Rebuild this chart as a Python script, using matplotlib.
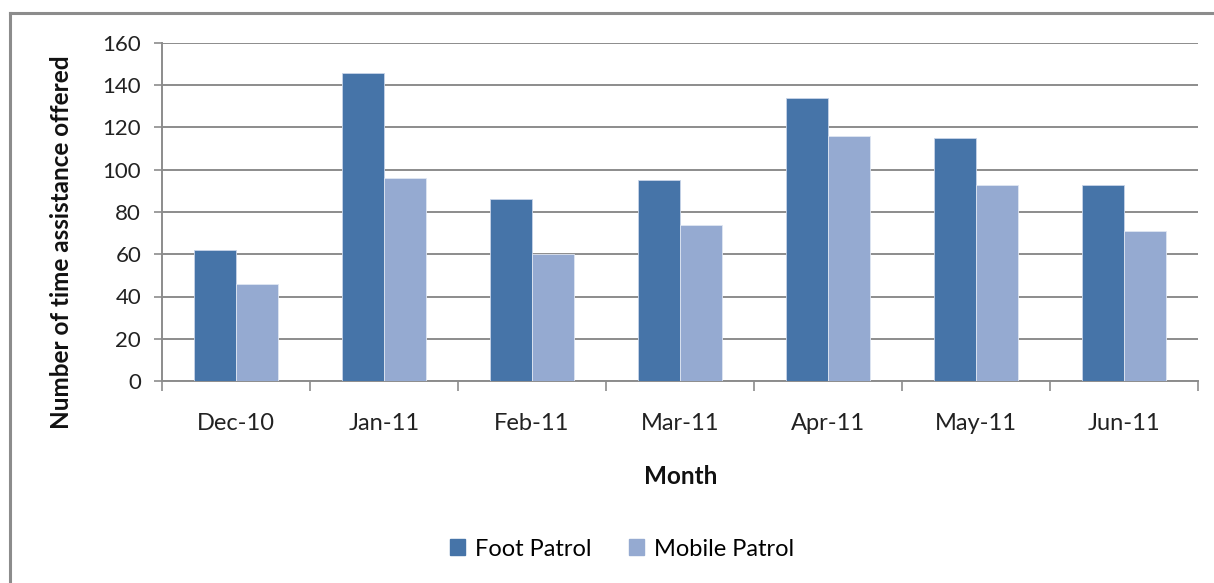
import matplotlib
matplotlib.use("Agg")
import matplotlib.pyplot as plt
import numpy as np
from matplotlib.lines import Line2D

months = ["Dec-10", "Jan-11", "Feb-11", "Mar-11", "Apr-11", "May-11", "Jun-11"]
foot_patrol = [62, 146, 86, 95, 134, 115, 93]
mobile_patrol = [46, 96, 60, 74, 116, 93, 71]
y_ticks = [0, 20, 40, 60, 80, 100, 120, 140, 160]

plt.rcParams['font.family'] = ['Lato', 'DejaVu Sans']

W, H = 1214, 583
fig = plt.figure(figsize=(W / 100, H / 100), dpi=100)
ax = fig.add_axes([162 / W, 1 - 381 / H, (1198 - 162) / W, (381 - 43) / H])

x = np.arange(len(months))
bw = 0.284
c_foot = "#4674A8"
c_mob = "#95AAD1"
ax.bar(x - bw / 2, foot_patrol, bw, color=c_foot, edgecolor="#c8d4e8", linewidth=0.6,
       label="Foot Patrol", zorder=3)
ax.bar(x + bw / 2, mobile_patrol, bw, color=c_mob, edgecolor="#dfe6f2", linewidth=0.6,
       label="Mobile Patrol", zorder=3)

ax.set_xlim(-0.5, len(months) - 0.5)
ax.set_ylim(0, 160)
ax.set_yticks(y_ticks)
ax.set_yticklabels([str(v) for v in y_ticks], fontsize=16, color="#222222")
ax.yaxis.grid(True, color="#8c8c8c", linewidth=1.4, zorder=0)
ax.set_axisbelow(True)

ax.set_xticks(np.arange(-0.5, len(months) + 0.5, 1.0))
ax.set_xticklabels([])
ax.set_xticks(x, minor=True)
ax.set_xticklabels(months, minor=True, fontsize=17, color="#222222")
ax.tick_params(axis="x", which="minor", length=0, pad=23)
ax.tick_params(axis="x", which="major", length=7, width=1.2, color="#8c8c8c", direction="out")
ax.tick_params(axis="y", length=6, width=1.2, color="#8c8c8c", direction="out", pad=9)

for s in ["top", "right"]:
    ax.spines[s].set_visible(False)
for s in ["left", "bottom"]:
    ax.spines[s].set_color("#8c8c8c")
    ax.spines[s].set_linewidth(1.4)

fig.text(62 / W, 1 - 242 / H, "Number of time assistance offered", rotation=90,
         ha="center", va="center", fontsize=17.5, fontweight="bold", color="#111111")
fig.text(681 / W, 1 - 476 / H, "Month", ha="center", va="center",
         fontsize=17.5, fontweight="bold", color="#111111")

handles = [plt.Rectangle((0, 0), 1, 1, color=c_foot), plt.Rectangle((0, 0), 1, 1, color=c_mob)]
fig.legend(handles, ["Foot Patrol", "Mobile Patrol"], loc="center",
           bbox_to_anchor=(622 / W, 1 - 549 / H), ncol=2, frameon=False,
           fontsize=17, handlelength=0.65, handleheight=0.65, handletextpad=0.4,
           columnspacing=1.6)

# outer chart frame (top and left edges visible)
fig.add_artist(Line2D([10 / W, 1.0], [1 - 13 / H, 1 - 13 / H], color="#8c8c8c", linewidth=2.2,
                      transform=fig.transFigure))
fig.add_artist(Line2D([10 / W, 10 / W], [0, 1 - 13 / H], color="#8c8c8c", linewidth=2.2,
                      transform=fig.transFigure))

fig.savefig("out.png", dpi=100)
